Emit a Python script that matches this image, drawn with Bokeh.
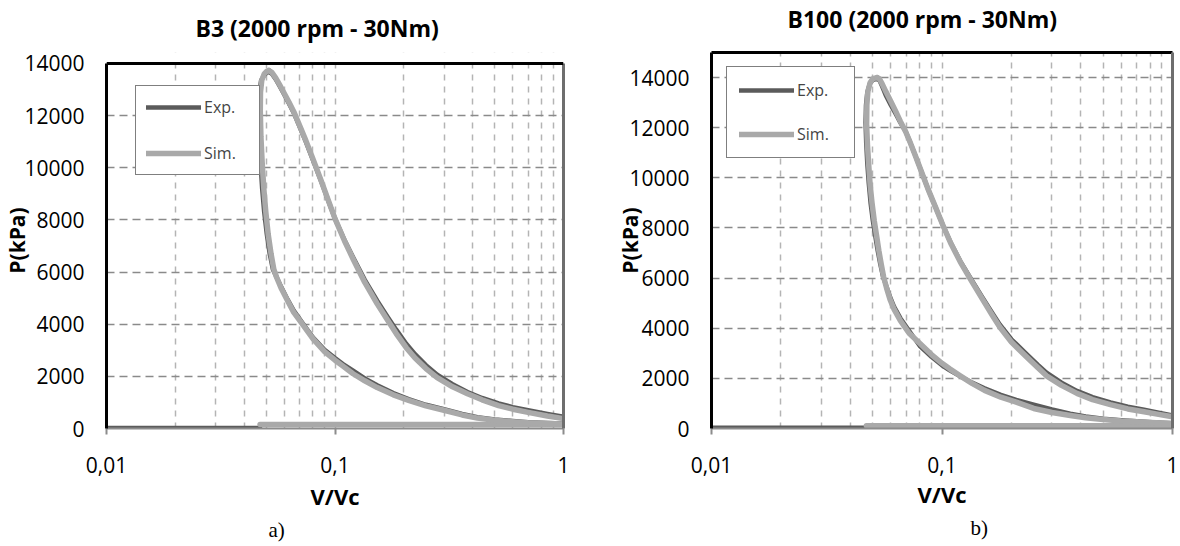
from bokeh.plotting import figure
from bokeh.models import (Range1d, LinearAxis, FixedTicker, Legend, LegendItem, Title,
                          Span, BoxAnnotation)
from bokeh.layouts import row
from bokeh.embed import file_html
from bokeh.resources import INLINE

# ---------------- data ----------------
x_ticks = [0.01, 0.1, 1.0]
x_tick_labels = ["0,01", "0,1", "1"]
x_minor = [0.02, 0.03, 0.04, 0.05, 0.06, 0.07, 0.08, 0.09,
           0.2, 0.3, 0.4, 0.5, 0.6, 0.7, 0.8, 0.9]
y_ticks = [0, 2000, 4000, 6000, 8000, 10000, 12000, 14000]

# ---- Panel a) B3 ----
b3_sim_bottom_v = [0.047, 1.0]
b3_sim_bottom_p = [150, 150]
b3_exp_bottom_v = [0.01, 0.047]
b3_exp_bottom_p = [20, 20]

b3_sim_comp_v = [1.0, 0.85, 0.7, 0.6, 0.5, 0.42, 0.36, 0.3, 0.25, 0.21,
                 0.18, 0.153, 0.135, 0.12, 0.108, 0.1, 0.09, 0.08, 0.072, 0.066,
                 0.062, 0.058, 0.0555, 0.054, 0.0525, 0.051, 0.0498, 0.0488, 0.048, 0.0474,
                 0.0471, 0.0472, 0.0478, 0.049, 0.0503, 0.0514]
b3_sim_comp_p = [170, 190, 220, 260, 320, 400, 520, 700, 870, 1080,
                 1290, 1570, 1830, 2100, 2400, 2620, 2950, 3450, 4000, 4450,
                 4900, 5400, 5800, 6100, 6700, 7450, 8300, 9200, 10200, 11200,
                 12200, 12900, 13350, 13600, 13700, 13730]
b3_sim_exp_v = [0.0514, 0.053, 0.055, 0.0571, 0.060, 0.063, 0.066, 0.069, 0.0745, 0.080,
                0.087, 0.0935, 0.100, 0.110, 0.120, 0.135, 0.153, 0.170, 0.185, 0.205,
                0.224, 0.25, 0.28, 0.327, 0.38, 0.44, 0.52, 0.6, 0.7, 0.85, 1.0]
b3_sim_exp_p = [13730, 13650, 13450, 13200, 12850, 12500, 12150, 11750, 11050, 10350,
                9500, 8750, 8050, 7200, 6500, 5600, 4780, 4150, 3650, 3100,
                2700, 2300, 1950, 1600, 1330, 1100, 880, 740, 620, 480, 380]

b3_exp_comp_v = [1.0, 0.85, 0.7, 0.6, 0.5, 0.42, 0.36, 0.3, 0.25, 0.21,
                 0.18, 0.153, 0.135, 0.12, 0.108, 0.1, 0.09, 0.08, 0.072, 0.066,
                 0.062, 0.058, 0.0552, 0.0535, 0.0518, 0.0503, 0.0490, 0.0480, 0.0472, 0.0466,
                 0.0464, 0.0466, 0.0475, 0.0490, 0.0503, 0.0512]
b3_exp_comp_p = [190, 210, 240, 285, 350, 430, 560, 740, 910, 1130,
                 1360, 1660, 1920, 2220, 2480, 2700, 3020, 3500, 4050, 4520,
                 4950, 5450, 5850, 6100, 6700, 7450, 8300, 9200, 10200, 11200,
                 12200, 12900, 13350, 13550, 13650, 13680]
b3_exp_exp_v = [0.0512, 0.053, 0.055, 0.0571, 0.060, 0.063, 0.066, 0.069, 0.0745, 0.080,
                0.087, 0.0935, 0.100, 0.110, 0.120, 0.135, 0.153, 0.170, 0.185, 0.205,
                0.224, 0.25, 0.28, 0.327, 0.38, 0.44, 0.52, 0.6, 0.7, 0.85, 1.0]
b3_exp_exp_p = [13680, 13600, 13400, 13150, 12800, 12450, 12100, 11700, 11000, 10300,
                9480, 8730, 8050, 7230, 6570, 5700, 4900, 4280, 3800, 3250,
                2850, 2430, 2060, 1700, 1400, 1170, 960, 820, 700, 560, 450]

# ---- Panel b) B100 ----
b100_sim_bottom_v = [0.047, 1.0]
b100_sim_bottom_p = [110, 110]
b100_exp_bottom_v = [0.01, 0.047]
b100_exp_bottom_p = [25, 25]

b100_sim_comp_v = [1.0, 0.85, 0.7, 0.6, 0.5, 0.42, 0.36, 0.3, 0.25, 0.21,
                   0.18, 0.153, 0.135, 0.12, 0.108, 0.1, 0.09, 0.08, 0.072, 0.066,
                   0.062, 0.0595, 0.0575, 0.0558, 0.0545, 0.0532, 0.052, 0.0508, 0.0497, 0.0488,
                   0.0481, 0.0475, 0.0471, 0.0472, 0.0477, 0.0488, 0.0502, 0.0522]
b100_sim_comp_p = [200, 230, 270, 300, 360, 430, 520, 640, 800, 1050,
                   1250, 1520, 1800, 2100, 2380, 2600, 2950, 3400, 3800, 4300,
                   4750, 5150, 5600, 6050, 6550, 7100, 7700, 8300, 9000, 9700,
                   10500, 11300, 12100, 12900, 13450, 13800, 13960, 14000]
b100_sim_exp_v = [0.0522, 0.0535, 0.055, 0.057, 0.060, 0.063, 0.066, 0.0695, 0.0725, 0.0765,
                  0.081, 0.087, 0.094, 0.101, 0.109, 0.12, 0.132, 0.15, 0.165, 0.178,
                  0.2, 0.233, 0.26, 0.284, 0.33, 0.385, 0.45, 0.538, 0.64, 0.753,
                  0.87, 1.0]
b100_sim_exp_p = [14000, 13950, 13750, 13450, 13050, 12650, 12250, 11850, 11450, 10900,
                  10300, 9550, 8800, 8100, 7400, 6650, 6000, 5150, 4530, 4050,
                  3450, 2850, 2430, 2100, 1720, 1400, 1150, 950, 780, 670,
                  565, 470]

b100_exp_comp_v = [1.0, 0.85, 0.7, 0.6, 0.5, 0.42, 0.36, 0.3, 0.25, 0.21,
                   0.18, 0.153, 0.135, 0.12, 0.108, 0.1, 0.09, 0.08, 0.072, 0.066,
                   0.062, 0.0595, 0.0575, 0.0555, 0.054, 0.0526, 0.0513, 0.0501, 0.0490, 0.0481,
                   0.0474, 0.0469, 0.0466, 0.0468, 0.0474, 0.0486, 0.0500, 0.0520]
b100_exp_comp_p = [210, 240, 285, 330, 390, 480, 590, 760, 950, 1140,
                   1340, 1600, 1830, 2080, 2320, 2520, 2860, 3300, 3900, 4400,
                   4850, 5250, 5650, 6050, 6550, 7100, 7700, 8300, 9000, 9800,
                   10600, 11400, 12200, 12900, 13400, 13750, 13900, 13950]
b100_exp_exp_v = [0.0520, 0.0535, 0.055, 0.057, 0.060, 0.063, 0.066, 0.0695, 0.0725, 0.0765,
                  0.081, 0.087, 0.094, 0.101, 0.109, 0.12, 0.132, 0.15, 0.165, 0.178,
                  0.2, 0.233, 0.26, 0.284, 0.33, 0.385, 0.45, 0.538, 0.64, 0.753,
                  0.87, 1.0]
b100_exp_exp_p = [13950, 13900, 13650, 13300, 12900, 12550, 12200, 11850, 11450, 10900,
                  10300, 9550, 8800, 8100, 7420, 6680, 6050, 5220, 4620, 4150,
                  3560, 2970, 2550, 2230, 1830, 1500, 1250, 1040, 870, 750,
                  630, 520]

EXP_COLOR = "#5b5b5b"
SIM_COLOR = "#a9a9a9"
FONT = "Open Sans"


def make_panel(cfg, sim, exp, title, cap):
    p = figure(width=590, height=546, x_axis_type="log",
               x_range=Range1d(0.01, 1.0), y_range=Range1d(0, cfg["ytop"]),
               output_backend="svg", toolbar_location=None,
               min_border_left=cfg["bl"], min_border_right=cfg["br"],
               min_border_top=51, min_border_bottom=118,
               outline_line_color=None, background_fill_color="white",
               border_fill_color="white")

    # x axis
    xa = p.xaxis[0]
    xa.ticker = FixedTicker(ticks=x_ticks, minor_ticks=x_minor)
    xa.major_label_overrides = {t: s for t, s in zip(x_ticks, x_tick_labels)}
    xa.major_label_text_font = FONT
    xa.major_label_text_font_size = "21px"
    xa.major_label_text_color = "black"
    xa.major_tick_out = 6
    xa.major_tick_in = 0
    xa.minor_tick_out = 0
    xa.minor_tick_in = 0
    xa.major_tick_line_color = "#8c8c8c"
    xa.major_tick_line_width = 2
    xa.major_label_standoff = 22
    xa.axis_line_color = "#8c8c8c"
    xa.axis_line_width = 2
    xa.axis_label = "V/Vc"
    xa.axis_label_text_font = FONT
    xa.axis_label_text_font_style = "bold"
    xa.axis_label_text_font_size = "22px"
    xa.axis_label_text_color = "black"
    xa.axis_label_standoff = cfg["xlab_standoff"]

    # y axis
    ya = p.yaxis[0]
    ya.ticker = FixedTicker(ticks=y_ticks)
    ya.bounds = (0, 14000) if cfg["bounded"] else "auto"
    ya.major_label_text_font = FONT
    ya.major_label_text_font_size = "21px"
    ya.major_label_text_color = "black"
    ya.major_tick_out = 0
    ya.major_tick_in = 0
    ya.minor_tick_out = 0
    ya.minor_tick_in = 0
    ya.major_label_standoff = 22
    ya.axis_line_color = "black"
    ya.axis_line_width = 3
    ya.axis_label = "P(kPa)"
    ya.axis_label_text_font = FONT
    ya.axis_label_text_font_style = "bold"
    ya.axis_label_text_font_size = "21px"
    ya.axis_label_text_color = "black"
    ya.axis_label_standoff = cfg["ylab_standoff"]

    # top edge; its blank label is a spacer that lifts the title
    top = LinearAxis(ticker=FixedTicker(ticks=[]),
                     axis_line_color=None if cfg["bounded"] else "black",
                     axis_line_width=3, major_tick_out=0, major_tick_in=0,
                     minor_tick_out=0, minor_tick_in=0, major_label_standoff=0,
                     major_label_text_font_size="0px",
                     axis_label=" ", axis_label_text_font_size="1px",
                     axis_label_standoff=cfg["top_space"])
    p.add_layout(top, "above")
    right = LinearAxis(ticker=FixedTicker(ticks=[]), axis_line_color="#6e6e6e",
                       axis_line_width=3, major_tick_out=0, major_tick_in=0,
                       minor_tick_out=0, minor_tick_in=0, major_label_standoff=0,
                       major_label_text_font_size="0px",
                       bounds=(0, 14000) if cfg["bounded"] else "auto")
    p.add_layout(right, "right")

    # titles
    p.add_layout(Title(text=title, align="left", offset=cfg["title_off"], standoff=0,
                       text_font=FONT, text_font_style="bold",
                       text_font_size="23px", text_color="black"), "above")
    p.add_layout(Title(text=cap, align="left", offset=cfg["cap_off"], standoff=4,
                       text_font="Liberation Serif", text_font_style="normal",
                       text_font_size="21px", text_color="black"), "below")

    # grids
    p.xgrid.grid_line_color = "#b4b4b4"
    p.xgrid.grid_line_dash = "6 6"
    p.xgrid.grid_line_width = 1.5
    p.xgrid.minor_grid_line_color = "#b4b4b4"
    p.xgrid.minor_grid_line_dash = "6 6"
    p.xgrid.minor_grid_line_width = 1.5
    p.ygrid.grid_line_color = "#8a8a8a"
    p.ygrid.grid_line_dash = "8 5"
    p.ygrid.grid_line_width = 1.5

    if cfg["bounded"]:
        p.add_layout(BoxAnnotation(bottom=14000, fill_color="white", fill_alpha=1.0,
                                   line_color=None, level="underlay"))
        p.add_layout(Span(location=14000, dimension="width", line_color="black",
                          line_width=3))

    # curves
    (s_bv, s_bp, s_cv, s_cp, s_ev, s_ep) = sim
    (e_bv, e_bp, e_cv, e_cp, e_ev, e_ep) = exp
    kw_e = dict(line_color=EXP_COLOR, line_width=4.5, line_cap="round", line_join="round")
    kw_s = dict(line_color=SIM_COLOR, line_width=5.5, line_cap="round", line_join="round")
    p.line(e_bv, e_bp, **kw_e)
    p.line(e_cv, e_cp, **kw_e)
    r_exp = p.line(e_ev, e_ep, **kw_e)
    p.line(s_bv, s_bp, **kw_s)
    p.line(s_cv, s_cp, **kw_s)
    r_sim = p.line(s_ev, s_ep, **kw_s)

    lx, ly, pad, spacing, lw = cfg["legend"]
    legend = Legend(items=[LegendItem(label="Exp.", renderers=[r_exp]),
                           LegendItem(label="Sim.", renderers=[r_sim])],
                    location=(lx, ly), margin=0, padding=pad, spacing=spacing,
                    glyph_width=55, glyph_height=20, label_standoff=3,
                    label_width=lw, label_height=20,
                    label_text_font=FONT, label_text_font_size="16px",
                    border_line_color="black", border_line_width=1.5,
                    background_fill_color="white", background_fill_alpha=1.0)
    p.add_layout(legend)
    return p


cfg_a = dict(ytop=14420, bl=105, br=27, bounded=True, top_space=5,
             ylab_standoff=-10, xlab_standoff=5, title_off=89, cap_off=162,
             legend=(29, 253, 10, 24, 45))
cfg_b = dict(ytop=15000, bl=121, br=8, bounded=False, top_space=14,
             ylab_standoff=-18, xlab_standoff=3, title_off=76, cap_off=259,
             legend=(15, 270, 12, 22, 45))

p1 = make_panel(cfg_a,
                (b3_sim_bottom_v, b3_sim_bottom_p, b3_sim_comp_v, b3_sim_comp_p,
                 b3_sim_exp_v, b3_sim_exp_p),
                (b3_exp_bottom_v, b3_exp_bottom_p, b3_exp_comp_v, b3_exp_comp_p,
                 b3_exp_exp_v, b3_exp_exp_p),
                "B3 (2000 rpm - 30Nm)", "a)")

p2 = make_panel(cfg_b,
                (b100_sim_bottom_v, b100_sim_bottom_p, b100_sim_comp_v, b100_sim_comp_p,
                 b100_sim_exp_v, b100_sim_exp_p),
                (b100_exp_bottom_v, b100_exp_bottom_p, b100_exp_comp_v, b100_exp_comp_p,
                 b100_exp_exp_v, b100_exp_exp_p),
                "B100 (2000 rpm - 30Nm)", "b)")

layout = row(p1, p2)
open("out.html", "w").write(file_html(layout, INLINE))
